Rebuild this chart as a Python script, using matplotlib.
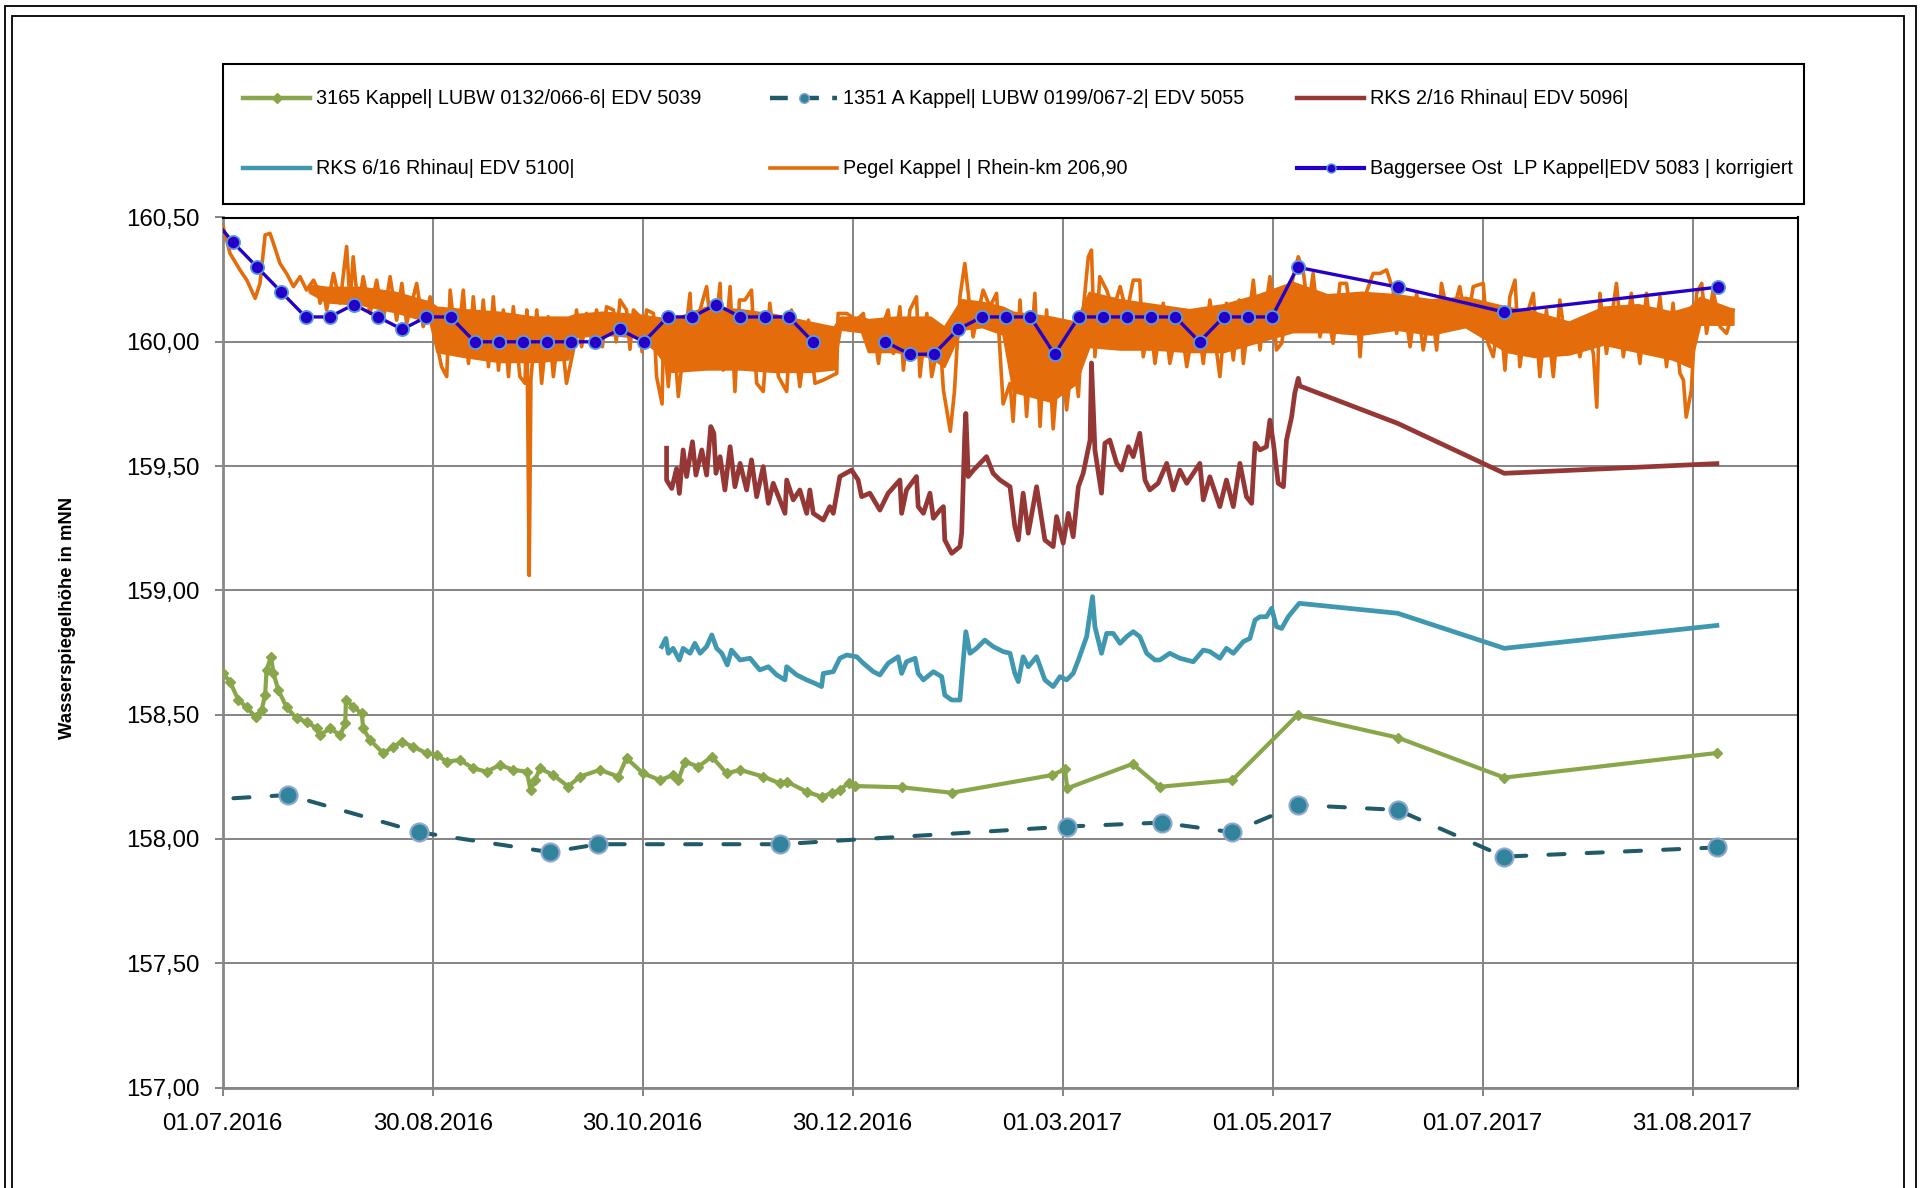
import numpy as np
import matplotlib.pyplot as plt
from matplotlib.lines import Line2D
from matplotlib.patches import Rectangle

plt.rcParams['font.family'] = ['Liberation Sans', 'DejaVu Sans']

W, H, DPI = 1923, 1188, 100

# x values are days after 01.07.2016
tick_step = 365 / 6
x_labels = ['01.07.2016', '30.08.2016', '30.10.2016', '30.12.2016',
            '01.03.2017', '01.05.2017', '01.07.2017', '31.08.2017']
y_ticks = [157.0, 157.5, 158.0, 158.5, 159.0, 159.5, 160.0, 160.5]

# 3165 Kappel
green_days = [0, 2.1, 4.5, 6.9, 9.6, 11.3, 12.3, 12.7, 14.0, 14.7, 16.1, 18.5, 21.4, 24.3,
              27.2, 28.2, 31.1, 34.0, 35.5, 35.7, 37.8, 40.3, 40.7, 42.7, 46.5, 49.4, 51.9,
              55.2, 59.1, 62.0, 64.9, 68.7, 72.6, 76.5, 80.3, 84.2, 88.1, 89.2, 90.5, 91.9,
              95.8, 100.1, 103.5, 109.3, 114.6, 117.0, 121.8, 126.7, 130.5, 132.0, 133.9,
              137.8, 141.7, 146.0, 149.9, 156.6, 161.4, 163.4, 169.2, 173.5, 176.4, 178.8,
              181.5, 183.2, 196.7, 211.2, 240.2, 244.0, 244.7, 263.6, 271.5, 292.5, 311.4,
              340.4, 371.3, 432.9]
green_vals = [158.667, 158.633, 158.56, 158.53, 158.49, 158.52, 158.58, 158.68, 158.733,
              158.667, 158.60, 158.53, 158.485, 158.472, 158.445, 158.418, 158.445, 158.418,
              158.465, 158.559, 158.532, 158.505, 158.445, 158.398, 158.345, 158.371, 158.391,
              158.371, 158.345, 158.338, 158.311, 158.318, 158.284, 158.271, 158.298, 158.278,
              158.271, 158.197, 158.237, 158.284, 158.257, 158.211, 158.251, 158.278, 158.251,
              158.325, 158.264, 158.237, 158.257, 158.237, 158.311, 158.291, 158.331, 158.264,
              158.278, 158.251, 158.224, 158.231, 158.19, 158.17, 158.184, 158.197, 158.227,
              158.213, 158.208, 158.186, 158.257, 158.28, 158.204, 158.302, 158.21, 158.237,
              158.499, 158.408, 158.247, 158.346]

# 1351 A Kappel
dash_days = [3.1, 19.0, 56.9, 94.8, 108.8, 161.6, 244.5, 272.0, 292.5, 311.4, 340.4, 371.3, 432.9]
dash_vals = [158.164, 158.177, 158.027, 157.947, 157.979, 157.979, 158.05, 158.066, 158.027,
             158.137, 158.117, 157.929, 157.966]

# RKS 2/16 Rhinau
red_days = [128.6, 128.6, 130.1, 131.5, 132.3, 133.4, 134.4, 136.1, 137.1, 138.8, 140.2, 141.4,
            142.3, 142.9, 144.1, 145.5, 147.0, 148.4, 149.9, 151.8, 153.2, 154.7, 156.6, 158.1,
            159.5, 161.4, 162.9, 163.4, 165.3, 167.2, 169.2, 170.1, 171.1, 174.0, 175.9, 176.9,
            178.8, 182.2, 184.1, 185.1, 187.5, 190.4, 192.8, 196.2, 196.7, 198.1, 201.0, 201.5,
            203.0, 204.9, 205.9, 207.8, 208.8, 209.2, 211.2, 213.6, 214.1, 215.0, 215.3, 216.0,
            217.5, 219.4, 221.3, 223.2, 225.2, 228.1, 229.5, 230.5, 231.9, 233.4, 235.8, 238.2,
            240.6, 241.6, 243.5, 245.0, 246.4, 247.9, 249.3, 251.3, 251.7, 252.7, 254.6, 255.6,
            257.0, 259.0, 260.4, 262.4, 263.8, 265.7, 267.2, 268.6, 271.0, 273.5, 275.4, 277.3,
            279.3, 281.2, 283.1, 284.1, 286.0, 288.9, 290.8, 292.8, 294.7, 296.6, 298.1, 299.1,
            300.5, 302.4, 303.4, 304.4, 305.8, 307.3, 308.2, 309.7, 310.6, 311.6, 312.1, 340.4,
            371.3, 432.9]
red_vals = [159.572, 159.444, 159.41, 159.49, 159.39, 159.565, 159.458, 159.598, 159.464, 159.565,
            159.464, 159.659, 159.632, 159.471, 159.538, 159.404, 159.578, 159.417, 159.511,
            159.404, 159.525, 159.377, 159.498, 159.35, 159.431, 159.364, 159.31, 159.444,
            159.364, 159.404, 159.31, 159.404, 159.31, 159.283, 159.337, 159.31, 159.458,
            159.484, 159.444, 159.377, 159.391, 159.323, 159.391, 159.444, 159.31, 159.404,
            159.458, 159.337, 159.31, 159.391, 159.29, 159.323, 159.337, 159.203, 159.149,
            159.176, 159.23, 159.632, 159.712, 159.458, 159.484, 159.511, 159.538, 159.471,
            159.444, 159.417, 159.256, 159.203, 159.391, 159.23, 159.417, 159.203, 159.176,
            159.297, 159.19, 159.31, 159.216, 159.417, 159.471, 159.605, 159.915, 159.565,
            159.391, 159.592, 159.605, 159.511, 159.484, 159.578, 159.538, 159.632, 159.444,
            159.404, 159.431, 159.511, 159.404, 159.484, 159.431, 159.471, 159.511, 159.364,
            159.457, 159.337, 159.444, 159.337, 159.511, 159.377, 159.35, 159.592, 159.565,
            159.578, 159.685, 159.592, 159.431, 159.417, 159.605, 159.699, 159.793, 159.853,
            159.822, 159.672, 159.471, 159.51]

# RKS 6/16 Rhinau
teal_days = [127.2, 128.4, 129.1, 130.5, 132.3, 133.4, 135.4, 136.8, 138.3, 140.2, 141.7, 143.1,
             144.6, 146.2, 147.4, 149.9, 152.8, 155.6, 158.1, 160.5, 162.9, 163.4, 166.3, 169.2,
             171.6, 173.5, 174.0, 176.9, 178.8, 180.8, 183.7, 185.6, 188.5, 190.4, 192.8, 195.7,
             196.7, 198.1, 200.6, 201.5, 203.0, 205.9, 208.3, 209.2, 211.2, 213.6, 214.4, 215.3,
             216.5, 218.4, 220.8, 223.2, 226.1, 228.1, 229.5, 230.5, 231.9, 233.4, 235.8, 238.2,
             240.6, 242.6, 244.5, 246.4, 247.9, 250.3, 252.0, 252.7, 254.6, 256.1, 258.0, 260.0,
             261.9, 263.8, 265.7, 267.7, 270.1, 271.5, 274.4, 277.3, 281.2, 284.1, 286.0, 288.9,
             290.8, 292.8, 295.7, 297.6, 299.1, 300.5, 302.4, 303.9, 305.3, 306.8, 308.7, 311.9,
             340.4, 371.3, 432.9]
teal_vals = [158.774, 158.807, 158.747, 158.767, 158.72, 158.767, 158.747, 158.787, 158.747,
             158.774, 158.821, 158.767, 158.747, 158.70, 158.76, 158.72, 158.727, 158.68, 158.693,
             158.66, 158.64, 158.693, 158.66, 158.64, 158.626, 158.613, 158.666, 158.673, 158.727,
             158.74, 158.733, 158.707, 158.673, 158.66, 158.707, 158.733, 158.666, 158.713,
             158.727, 158.666, 158.64, 158.673, 158.653, 158.579, 158.559, 158.559, 158.693,
             158.834, 158.747, 158.767, 158.80, 158.774, 158.754, 158.747, 158.666, 158.633,
             158.733, 158.693, 158.733, 158.64, 158.613, 158.653, 158.64, 158.666, 158.72,
             158.814, 158.975, 158.854, 158.747, 158.827, 158.827, 158.787, 158.814, 158.834,
             158.814, 158.747, 158.72, 158.72, 158.747, 158.727, 158.713, 158.76, 158.754,
             158.727, 158.767, 158.747, 158.794, 158.807, 158.881, 158.894, 158.894, 158.928,
             158.854, 158.847, 158.894, 158.948, 158.908, 158.767, 158.859]

# Pegel Kappel: single readings (spikes) ...
orange_days = [0, 2.1, 5.0, 7.0, 9.4, 10.8, 12.3, 13.7, 14.7, 16.6, 18.5, 20.5, 22.4, 24.3, 26.3,
               27.7, 28.2, 29.2, 30.1, 32.1, 34.0, 35.9, 36.9, 37.8, 39.3, 40.7, 42.7, 44.6, 46.5,
               48.5, 50.4, 51.9, 53.3, 56.2, 58.1, 60.1, 62.0, 63.4, 64.9, 65.9, 67.8, 69.7, 71.2,
               72.6, 74.1, 75.5, 77.0, 78.4, 79.9, 81.3, 82.8, 84.2, 86.1, 87.6, 88.1, 88.8, 89.3,
               91.0, 92.4, 94.3, 95.8, 97.7, 99.6, 101.6, 102.5, 104.0, 105.4, 107.0, 108.3,
               110.0, 111.2, 113.2, 114.0, 115.1, 117.0, 118.0, 119.0, 120.9, 121.5, 122.8, 124.8,
               125.7, 127.3, 127.7, 129.1, 130.5, 132.0, 133.4, 135.4, 136.3, 138.3, 140.2, 142.1,
               144.1, 145.0, 147.0, 148.4, 149.7, 151.3, 153.2, 154.7, 156.6, 158.5, 161.0, 163.4,
               164.8, 167.2, 169.7, 171.6, 174.0, 176.0, 177.9, 178.3, 180.8, 183.7, 185.6, 186.5,
               188.5, 190.0, 191.4, 192.8, 194.3, 196.2, 197.2, 199.1, 201.0, 202.0, 204.0, 205.4,
               207.8, 208.8, 210.8, 212.0, 213.6, 215.0, 216.0, 217.4, 220.3, 222.3, 224.2, 226.1,
               228.1, 229.0, 231.0, 232.9, 235.3, 236.8, 238.7, 240.6, 242.6, 244.5, 246.4, 247.9,
               249.3, 250.8, 251.7, 252.7, 254.1, 256.1, 258.0, 260.0, 261.9, 263.8, 265.7, 266.7,
               268.6, 270.1, 272.5, 274.4, 277.3, 279.3, 282.1, 284.1, 286.0, 288.9, 290.8, 292.8,
               294.5, 295.7, 298.6, 300.5, 303.4, 305.3, 306.8, 309.2, 311.6, 313.0, 314.5, 315.9,
               317.9, 319.8, 321.7, 323.7, 325.6, 327.1, 328.5, 329.5, 330.9, 333.3, 335.3, 337.2,
               339.1, 340.1, 342.0, 344.0, 345.9, 347.8, 350.2, 351.7, 353.1, 355.5, 358.4, 360.4,
               362.3, 365.2, 366.6, 368.1, 370.0, 371.5, 372.9, 374.4, 375.8, 377.7, 379.7, 381.6,
               383.5, 385.5, 387.4, 389.3, 391.3, 393.2, 395.1, 397.1, 398.1, 399.0, 400.9, 403.8,
               405.8, 408.1, 410.6, 412.5, 414.4, 416.4, 418.3, 420.2, 422.2, 423.2, 424.0, 425.5,
               427.0, 428.5, 429.9, 431.8, 433.8, 435.7, 437.6]
orange_vals = [160.47, 160.356, 160.289, 160.248, 160.175, 160.235, 160.43, 160.436, 160.396,
               160.315, 160.275, 160.222, 160.262, 160.208, 160.248, 160.208, 160.155, 160.208,
               160.128, 160.275, 160.155, 160.383, 160.155, 160.342, 160.128, 160.262, 160.114,
               160.248, 160.087, 160.262, 160.087, 160.235, 160.074, 160.235, 160.061, 160.181,
               159.994, 159.90, 159.86, 160.208, 159.953, 160.208, 159.913, 160.181, 159.94,
               160.168, 159.90, 160.181, 159.886, 160.128, 159.86, 160.141, 159.86, 159.833,
               160.128, 159.06, 159.85, 160.128, 159.833, 160.101, 159.86, 160.087, 159.833,
               159.967, 160.128, 159.98, 160.114, 160.0, 160.128, 159.98, 160.141, 160.128, 160.0,
               160.168, 160.128, 159.97, 160.128, 160.101, 159.96, 160.128, 160.114, 159.86,
               159.75, 160.047, 159.82, 160.061, 159.78, 159.953, 160.195, 159.913, 160.128,
               160.222, 159.967, 160.235, 159.886, 160.222, 159.80, 160.168, 160.168, 160.208,
               159.833, 159.80, 160.155, 159.86, 159.80, 160.128, 159.82, 160.087, 159.833,
               159.846, 159.86, 159.873, 160.114, 160.114, 160.087, 160.114, 160.02, 160.061,
               159.913, 160.074, 160.128, 159.953, 160.141, 159.886, 160.128, 160.181, 159.86,
               160.114, 159.86, 160.02, 159.806, 159.64, 159.80, 160.181, 160.315, 160.195,
               160.02, 160.208, 160.141, 160.195, 159.75, 159.833, 159.68, 160.168, 159.70,
               160.195, 159.66, 160.128, 159.65, 159.994, 159.726, 159.967, 159.78, 160.128,
               160.342, 160.369, 159.94, 160.262, 160.208, 160.128, 160.222, 160.114, 160.248,
               160.248, 159.94, 160.101, 159.913, 160.155, 159.913, 160.114, 159.90, 160.128,
               159.913, 160.168, 159.86, 160.155, 159.927, 160.168, 159.913, 160.248, 159.967,
               160.262, 159.967, 159.994, 160.208, 160.342, 160.289, 160.128, 160.275, 160.02,
               160.141, 159.994, 160.235, 160.235, 160.074, 160.181, 159.94, 160.181, 160.275,
               160.275, 160.289, 160.208, 160.034, 160.181, 159.98, 160.195, 159.967, 160.155,
               159.967, 160.235, 160.074, 160.222, 160.061, 160.222, 160.235, 159.994, 159.94,
               160.128, 159.886, 160.181, 160.248, 159.90, 160.101, 160.195, 159.86, 160.128,
               159.86, 160.168, 159.967, 160.061, 159.94, 160.061, 159.953, 159.737, 160.195,
               159.953, 160.235, 159.94, 160.195, 159.913, 160.195, 159.953, 160.181, 159.90,
               160.155, 159.873, 159.846, 159.697, 159.806, 160.195, 160.235, 160.034, 160.208,
               160.061, 160.034, 160.128]

# ... and the solid core of the dense daily band (low / high edge)
band_days = [25, 30, 40, 50, 60, 62, 70, 80, 90, 100, 102, 110, 120, 125, 130, 140, 150, 160,
             170, 177, 179, 185, 187, 195, 205, 209, 214, 220, 226, 229, 240, 247, 251, 260, 270,
             280, 290, 300, 310, 320, 330, 340, 350, 360, 372, 380, 390, 400, 410, 420, 425, 428,
             437.6]
band_low = [160.20, 160.16, 160.15, 160.12, 160.08, 159.96, 159.94, 159.92, 159.92, 159.93,
            160.02, 160.03, 160.02, 159.97, 159.88, 159.89, 159.89, 159.88, 159.88, 159.89,
            160.05, 160.04, 159.96, 159.96, 159.94, 159.90, 160.05, 160.06, 160.03, 159.80,
            159.76, 159.83, 159.98, 159.97, 159.97, 159.96, 159.96, 160.00, 160.04, 160.04,
            160.03, 160.05, 160.03, 160.06, 159.96, 159.94, 159.95, 159.99, 159.96, 159.93,
            159.90, 160.07, 160.07]
band_high = [160.23, 160.22, 160.22, 160.20, 160.16, 160.14, 160.13, 160.12, 160.10, 160.10,
             160.11, 160.12, 160.11, 160.10, 160.09, 160.14, 160.13, 160.11, 160.08, 160.06,
             160.10, 160.10, 160.09, 160.10, 160.10, 160.06, 160.17, 160.16, 160.14, 160.12,
             160.10, 160.08, 160.20, 160.17, 160.15, 160.13, 160.15, 160.19, 160.24, 160.19,
             160.20, 160.19, 160.17, 160.18, 160.14, 160.12, 160.08, 160.14, 160.15, 160.12,
             160.14, 160.18, 160.13]

# Baggersee Ost (nan = no reading)
blue_days = [0, 3, 10, 17, 24, 31, 38, 45, 52, 59, 66, 73, 80, 87, 94, 101, 108, 115, 122, 129,
             136, 143, 150, 157, 164, 171, 178, 192, 199, 206, 213, 220, 227, 234, 241, 248, 255,
             262, 269, 276, 283, 290, 297, 304, 311.4, 340.4, 371.2, 433.2]
blue_vals = [160.45, 160.40, 160.30, 160.20, 160.10, 160.10, 160.15, 160.10, 160.05, 160.10,
             160.10, 160.00, 160.00, 160.00, 160.00, 160.00, 160.00, 160.05, 160.00, 160.10,
             160.10, 160.15, 160.10, 160.10, 160.10, 160.00, np.nan, 160.00, 159.95, 159.95,
             160.05, 160.10, 160.10, 160.10, 159.95, 160.10, 160.10, 160.10, 160.10, 160.10,
             160.00, 160.10, 160.10, 160.10, 160.30, 160.22, 160.12, 160.22]

c_green = '#89A64A'
c_dash = '#215A69'
c_dash_mk = '#31849B'
c_red = '#953735'
c_teal = '#3F97B0'
c_orange = '#E46C0A'
c_blue = '#2400C8'
c_grid = '#878787'


def fx(px):
    return px / W


def fy(py):
    return 1 - py / H


fig = plt.figure(figsize=(W / DPI, H / DPI), dpi=DPI)
ax = fig.add_axes([fx(222.7), fy(1087.6), fx(1797.5) - fx(222.7), fy(217.5) - fy(1087.6)])

ax.plot(green_days, green_vals, color=c_green, lw=3.0, marker='D', ms=5,
        mfc=c_green, mec=c_green, zorder=3)
ax.plot(dash_days, dash_vals, color=c_dash, lw=2.9, dashes=(4, 5.5), dash_capstyle='round',
        marker='o', ms=13, mfc=c_dash_mk, mec='#8FA8D0', mew=1.5,
        markevery=list(range(1, len(dash_days))), zorder=3)
ax.plot(red_days, red_vals, color=c_red, lw=3.4, zorder=3)
ax.plot(teal_days, teal_vals, color=c_teal, lw=3.4, zorder=3)
ax.fill_between(band_days, band_low, band_high, color=c_orange, lw=1.5, ec=c_orange, zorder=4)
ax.plot(orange_days, orange_vals, color=c_orange, lw=2.6, zorder=4)
ax.plot(blue_days, blue_vals, color=c_blue, lw=2.4, marker='o', ms=9.5,
        mfc=c_blue, mec='#5A9BE0', mew=1.3,
        markevery=list(range(1, len(blue_days))), zorder=5)

ax.set_xlim(0, 7.5 * tick_step)
ax.set_ylim(157, 160.5)
ax.set_xticks([i * tick_step for i in range(len(x_labels))])
ax.set_xticklabels(x_labels)
ax.set_yticks(y_ticks)
ax.set_yticklabels([f'{v:.2f}'.replace('.', ',') for v in y_ticks])
ax.grid(True, color=c_grid, lw=1.45, zorder=1)
ax.set_axisbelow(True)
ax.tick_params(axis='both', direction='out', length=5.5, width=1.45, color=c_grid,
               labelsize=17.3, pad=11)
ax.tick_params(axis='x', pad=13)
for side in ['left', 'bottom']:
    ax.spines[side].set_color(c_grid)
    ax.spines[side].set_linewidth(2)
for side in ['top', 'right']:
    ax.spines[side].set_color('black')
    ax.spines[side].set_linewidth(1.5)

fig.text(fx(68), fy(618), 'Wasserspiegelhöhe in mNN', rotation=90, ha='center', va='center',
         fontsize=13.3, fontweight='bold')

# outer frames, open at the bottom
for left, top, right in [(5, 6, 1916), (12, 16, 1904)]:
    fig.add_artist(Rectangle((fx(left), fy(1300)), fx(right) - fx(left), fy(top) - fy(1300),
                             transform=fig.transFigure, fill=False, ec='black', lw=1.3))

# legend box
fig.add_artist(Rectangle((fx(223), fy(204)), fx(1804) - fx(223), fy(64) - fy(204),
                         transform=fig.transFigure, fill=False, ec='black', lw=1.5))

entries = [
    ('3165 Kappel| LUBW 0132/066-6| EDV 5039', dict(color=c_green, lw=3.2, marker='D', ms=5,
                                                    mfc=c_green, mec=c_green)),
    ('1351 A Kappel| LUBW 0199/067-2| EDV 5055', dict(color=c_dash, lw=3.2, dashes=(4, 3),
                                                      marker='o', ms=7, mfc=c_dash_mk,
                                                      mec='#8FA8D0')),
    ('RKS 2/16 Rhinau| EDV 5096|', dict(color=c_red, lw=3.2)),
    ('RKS 6/16 Rhinau| EDV 5100|', dict(color=c_teal, lw=3.2)),
    ('Pegel Kappel | Rhein-km 206,90', dict(color=c_orange, lw=2.6)),
    ('Baggersee Ost  LP Kappel|EDV 5083 | korrigiert', dict(color=c_blue, lw=3.0, marker='o',
                                                            ms=6.5, mfc=c_blue, mec='#5A9BE0')),
]
for i, (label, style) in enumerate(entries):
    col, row = i % 3, i // 3
    x0 = 243 + col * 527
    y0 = 98 + row * 70
    fig.add_artist(Line2D([fx(x0), fx(x0 + 33.5), fx(x0 + 67)], [fy(y0)] * 3,
                          transform=fig.transFigure, markevery=[1], **style))
    fig.text(fx(x0 + 73), fy(y0), label, ha='left', va='center', fontsize=14.2)

fig.savefig('out.png', dpi=DPI)
